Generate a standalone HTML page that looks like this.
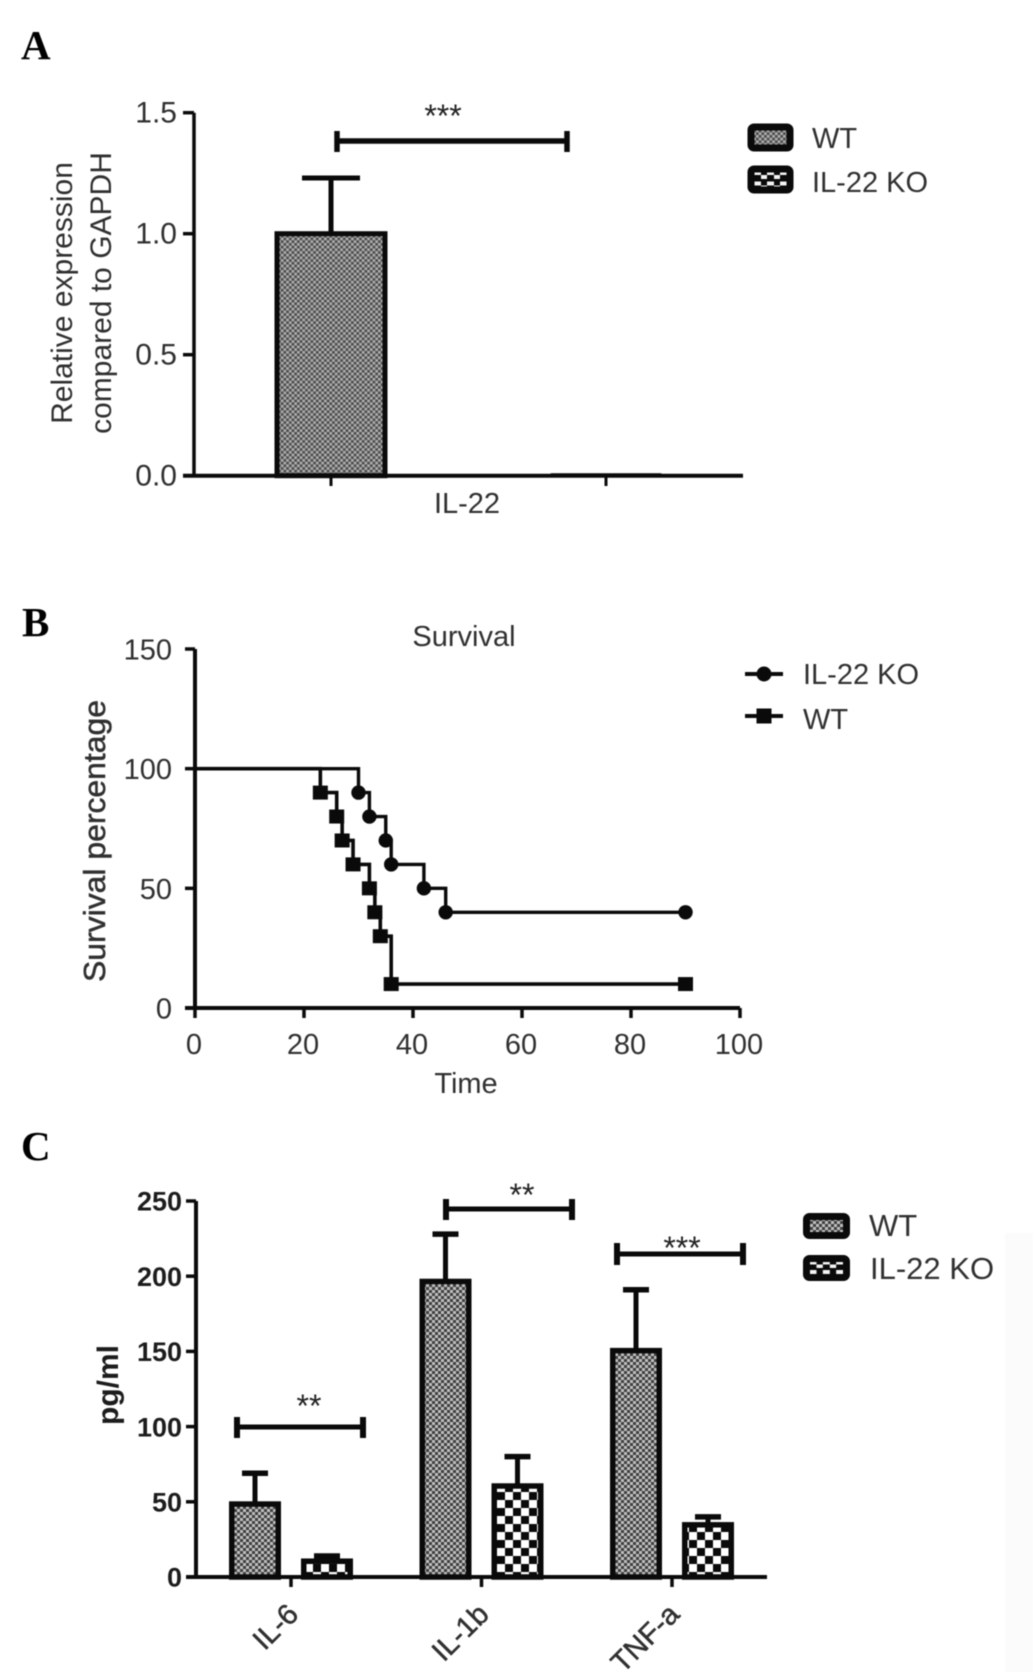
<!DOCTYPE html>
<html lang="en">
<head>
<meta charset="utf-8">
<title>IL-22 KO figure panels</title>
<style>
html,body{margin:0;padding:0;background:#fff;width:1033px;height:1672px;overflow:hidden}
svg{display:block;filter:blur(0.55px)}
text{font-family:"Liberation Sans",sans-serif;fill:#303030}
.letter{font-family:"Liberation Serif",serif;font-weight:bold;font-size:41px;fill:#000}
.t29{font-size:29px}
.t30{font-size:30px}
.t31{font-size:31px}
.bold{font-weight:bold;fill:#1c1c1c}
.star{font-size:32px;fill:#222}
.brk{stroke:#0a0a0a;fill:none}
</style>
</head>
<body>
<svg id="fig" xmlns="http://www.w3.org/2000/svg" width="1033" height="1672" viewBox="0 0 1033 1672">
<defs>
<pattern id="wt" patternUnits="userSpaceOnUse" width="6" height="6">
<rect width="6" height="6" fill="#3e3e3e"/>
<rect x="0" y="0" width="3" height="3" fill="#c0c0c0"/>
<rect x="3" y="3" width="3" height="3" fill="#c0c0c0"/>
</pattern>
<pattern id="wta" patternUnits="userSpaceOnUse" width="5.4" height="5.4">
<rect width="5.4" height="5.4" fill="#4a4a4a"/>
<rect x="0" y="0" width="2.7" height="2.7" fill="#b0b0b0"/>
<rect x="2.7" y="2.7" width="2.7" height="2.7" fill="#b0b0b0"/>
</pattern>
<pattern id="ko" patternUnits="userSpaceOnUse" width="16" height="16" x="1" y="4">
<rect width="16" height="16" fill="#fff"/>
<rect x="0" y="0" width="8" height="8" fill="#0a0a0a"/>
<rect x="8" y="8" width="8" height="8" fill="#0a0a0a"/>
</pattern>
<pattern id="ko-sw" patternUnits="objectBoundingBox" width="0.3333" height="0.5">
<rect width="14" height="11" fill="#0a0a0a"/>
<rect x="3" y="2" width="7" height="4" fill="#f4f4f4"/>
<rect x="10" y="6" width="4" height="4" fill="#f4f4f4"/>
<rect x="0" y="6" width="3" height="4" fill="#f4f4f4"/>
</pattern>
</defs>

<rect x="1005" y="1233" width="28" height="439" fill="#fbfbfb"/>

<!-- Panel A static -->
<g>
<text class="letter" x="21" y="59">A</text>
<text class="t30" transform="translate(72,293) rotate(-90)" text-anchor="middle">Relative expression</text>
<text class="t30" transform="translate(111,293) rotate(-90)" text-anchor="middle">compared to GAPDH</text>
<g class="brk">
<path d="M337 141H567" stroke-width="5.5"/><path d="M337 131V152M567 131V152" stroke-width="5.5"/>
</g>
<text class="star" x="443" y="127" text-anchor="middle">***</text>
<g>
<rect x="751" y="127" width="39" height="21" rx="3" fill="url(#wta)" stroke="#0a0a0a" stroke-width="7"/>
<text class="t29" x="812" y="148">WT</text>
<rect x="751" y="169" width="39" height="21" rx="3" fill="url(#ko-sw)" stroke="#0a0a0a" stroke-width="7"/>
<text class="t29" x="812" y="192">IL-22 KO</text>
</g>
</g>

<!-- Panel B static -->
<g>
<text class="letter" x="22" y="636">B</text>
<text class="t29" x="464" y="646" text-anchor="middle">Survival</text>
<text class="t29" x="466" y="1093" text-anchor="middle">Time</text>
<text class="t31" transform="translate(105,841) rotate(-90)" text-anchor="middle" textLength="282" lengthAdjust="spacingAndGlyphs" stroke="#303030" stroke-width="0.5">Survival percentage</text>
<g>
<path d="M745 674H783" stroke="#0a0a0a" stroke-width="4"/>
<circle cx="764" cy="674" r="7.500" fill="#0a0a0a"/>
<text class="t29" x="803" y="684">IL-22 KO</text>
<path d="M745 716H783" stroke="#0a0a0a" stroke-width="4"/>
<rect x="756.500" y="708.500" width="15" height="15" fill="#0a0a0a"/>
<text class="t29" x="803" y="729">WT</text>
</g>
</g>

<!-- Panel C static -->
<g>
<text class="letter" x="21" y="1160">C</text>
<text class="t30 bold" transform="translate(118,1385) rotate(-90)" text-anchor="middle">pg/ml</text>
<g class="brk"><path d="M237 1427H363" stroke-width="5"/><path d="M237 1417V1438M363 1417V1438" stroke-width="6"/></g>
<text class="star" x="309" y="1417" text-anchor="middle">**</text>
<g class="brk"><path d="M446 1209H572" stroke-width="5"/><path d="M446 1199V1220M572 1199V1220" stroke-width="6"/></g>
<text class="star" x="522" y="1206" text-anchor="middle">**</text>
<g class="brk"><path d="M617 1254H743" stroke-width="5"/><path d="M617 1243V1265M743 1243V1265" stroke-width="6"/></g>
<text class="star" x="682" y="1259" text-anchor="middle">***</text>
<g>
<rect x="806.500" y="1216.500" width="40" height="19" rx="3" fill="url(#wt)" stroke="#0a0a0a" stroke-width="7"/>
<text class="t31" x="869" y="1236">WT</text>
<rect x="806.500" y="1258.500" width="40" height="19" rx="3" fill="url(#ko-sw)" stroke="#0a0a0a" stroke-width="7"/>
<text class="t31" x="870" y="1279">IL-22 KO</text>
</g>
</g>
</svg>

<script>
// Panel A data
const aTickValues = [0, 0.5, 1, 1.5];
const aTickLabels = ['0.0', '0.5', '1.0', '1.5'];
const aCategory = 'IL-22';
const aBarValues = [1.0, 0.005];
const aBarErrorTops = [1.23, 0.006];

// Panel B data
const bYTicks = [0, 50, 100, 150];
const bXTicks = [0, 20, 40, 60, 80, 100];
const koTimes = [0, 30, 32, 35, 36, 42, 46, 90];
const koSurvival = [100, 90, 80, 70, 60, 50, 40, 40];
const wtTimes = [0, 23, 26, 27, 29, 32, 33, 34, 36, 90];
const wtSurvival = [100, 90, 80, 70, 60, 50, 40, 30, 10, 10];

// Panel C data
const cYTicks = [0, 50, 100, 150, 200, 250];
const cCategories = ['IL-6', 'IL-1b', 'TNF-a'];
const cWtValues = [48.5, 196.5, 150.5];
const cWtErrorTops = [69, 228, 191];
const cKoValues = [10.5, 60.5, 34.7];
const cKoErrorTops = [14, 80, 40];

const svg = document.getElementById('fig');
const NS = 'http://www.w3.org/2000/svg';
function el(tag, attrs, text) {
  const n = document.createElementNS(NS, tag);
  for (const k in attrs) n.setAttribute(k, attrs[k]);
  if (text !== undefined) n.textContent = text;
  svg.appendChild(n);
  return n;
}
function linear(d0, d1, p0, p1) {
  return v => p0 + (v - d0) * (p1 - p0) / (d1 - d0);
}
const INK = '#0a0a0a';

/* ---------- Panel A ---------- */
const yA = linear(0, 1.5, 475.7, 112.7);
const xA = i => 331 + i * 275;
aBarValues.forEach((v, i) => {
  const cx = xA(i);
  const line = el('path', {d: 'M' + cx + ' ' + yA(v) + 'V' + yA(aBarErrorTops[i]), stroke: INK, 'stroke-width': 5});
  
  
  const cap = el('path', {d: 'M' + (cx - 29) + ' ' + yA(aBarErrorTops[i]) + 'H' + (cx + 29), stroke: INK, 'stroke-width': i === 0 ? 5 : 1});
  
  
  const bar = el('rect', {x: cx - 54, y: yA(v), width: 108, height: yA(0) - yA(v), fill: i === 0 ? 'url(#wta)' : 'url(#ko)', stroke: INK, 'stroke-width': i === 0 ? 5 : 2.5});
  
  
  const tick = el('path', {d: 'M' + cx + ' ' + yA(0) + 'V486', stroke: INK, 'stroke-width': 3});
  
  
});
const aYAxis = el('path', {d: 'M194 ' + yA(1.5) + 'V' + yA(0), stroke: INK, 'stroke-width': 3.5, fill: 'none'});


const aXAxis = el('path', {d: 'M183 ' + yA(0) + 'H743', stroke: INK, 'stroke-width': 4});


aTickValues.forEach((v, i) => {
  const t = el('path', {d: 'M183 ' + yA(v) + 'H194', stroke: INK, 'stroke-width': 3.5});
  
  
  const l = el('text', {x: 177, y: yA(v) - 1, dy: '0.36em', 'text-anchor': 'end', class: 't30'}, aTickLabels[i]);
  
  
});
const aCat = el('text', {x: 467, y: 513, 'text-anchor': 'middle', class: 't29'}, aCategory);



/* ---------- Panel B ---------- */
const xB = linear(0, 100, 195, 740);
const yB = linear(0, 150, 1008, 649);
function stepPath(times, vals) {
  let d = 'M' + xB(times[0]) + ' ' + yB(vals[0]);
  for (let i = 1; i < times.length; i++) {
    d += 'H' + xB(times[i]) + 'V' + yB(vals[i]);
  }
  return d;
}
const koLine = el('path', {d: stepPath(koTimes, koSurvival), fill: 'none', stroke: INK, 'stroke-width': 3.4});


const wtLine = el('path', {d: stepPath(wtTimes, wtSurvival), fill: 'none', stroke: INK, 'stroke-width': 3.6});


koTimes.forEach((t, i) => {
  if (i === 0) return;
  const m = el('circle', {cx: xB(t), cy: yB(koSurvival[i]), r: 7.2, fill: INK});
  
  
});
wtTimes.forEach((t, i) => {
  if (i === 0) return;
  const m = el('rect', {x: xB(t) - 7.5, y: yB(wtSurvival[i]) - 7, width: 15, height: 14, fill: INK});
  
  
});
const bYAxis = el('path', {d: 'M' + xB(0) + ' ' + yB(150) + 'V' + yB(0), stroke: INK, 'stroke-width': 4});


const bXAxis = el('path', {d: 'M185 ' + yB(0) + 'H' + xB(100), stroke: INK, 'stroke-width': 4});


bYTicks.forEach(v => {
  const t = el('path', {d: 'M185 ' + yB(v) + 'H' + xB(0), stroke: INK, 'stroke-width': 3.5});
  
  
  const l = el('text', {x: 172, y: yB(v), dy: '0.36em', 'text-anchor': 'end', class: 't29'}, String(v));
  
  
});
bXTicks.forEach(v => {
  const t = el('path', {d: 'M' + xB(v) + ' ' + yB(0) + 'V1018', stroke: INK, 'stroke-width': 3.5});
  
  
  const l = el('text', {x: xB(v) - 1, y: 1054, 'text-anchor': 'middle', class: 't29'}, String(v));
  
  
});

/* ---------- Panel C ---------- */
const yC = linear(0, 250, 1577, 1201);
const xC = i => 291 + i * 190.5;
function drawCBar(cx, value, top, fill, name) {
  const line = el('path', {d: 'M' + cx + ' ' + yC(value) + 'V' + yC(top), stroke: INK, 'stroke-width': 5});
  
  
  const cap = el('path', {d: 'M' + (cx - 13) + ' ' + yC(top) + 'H' + (cx + 13), stroke: INK, 'stroke-width': 5.5});
  
  
  const bar = el('rect', {x: cx - 23.25, y: yC(value), width: 46.5, height: yC(0) - yC(value), fill: fill, stroke: INK, 'stroke-width': 5.5});
  
  
}
cCategories.forEach((c, i) => {
  drawCBar(xC(i) - 36, cWtValues[i], cWtErrorTops[i], 'url(#wt)', 'bar-wt-' + c.toLowerCase());
  drawCBar(xC(i) + 36, cKoValues[i], cKoErrorTops[i], 'url(#ko)', 'bar-ko-' + c.toLowerCase());
  const t = el('path', {d: 'M' + xC(i) + ' ' + yC(0) + 'V1587', stroke: INK, 'stroke-width': 3.5});
  
  
  const lx = xC(i) + 9;
  const l = el('text', {x: lx, y: 1616, 'text-anchor': 'end', 'font-size': 29, stroke: '#303030', 'stroke-width': 0.5, transform: 'rotate(-45 ' + lx + ' 1616)'}, c);
  
  
});
const cYAxis = el('path', {d: 'M196 ' + yC(250) + 'V' + yC(0), stroke: INK, 'stroke-width': 4});


const cXAxis = el('path', {d: 'M186 ' + yC(0) + 'H767', stroke: INK, 'stroke-width': 4});


cYTicks.forEach(v => {
  const t = el('path', {d: 'M186 ' + yC(v) + 'H196', stroke: INK, 'stroke-width': 3.5});
  
  
  const l = el('text', {x: 182, y: yC(v), dy: '0.36em', 'text-anchor': 'end', class: 'bold', 'font-size': 27}, String(v));
  
  
});
</script>
</body>
</html>
